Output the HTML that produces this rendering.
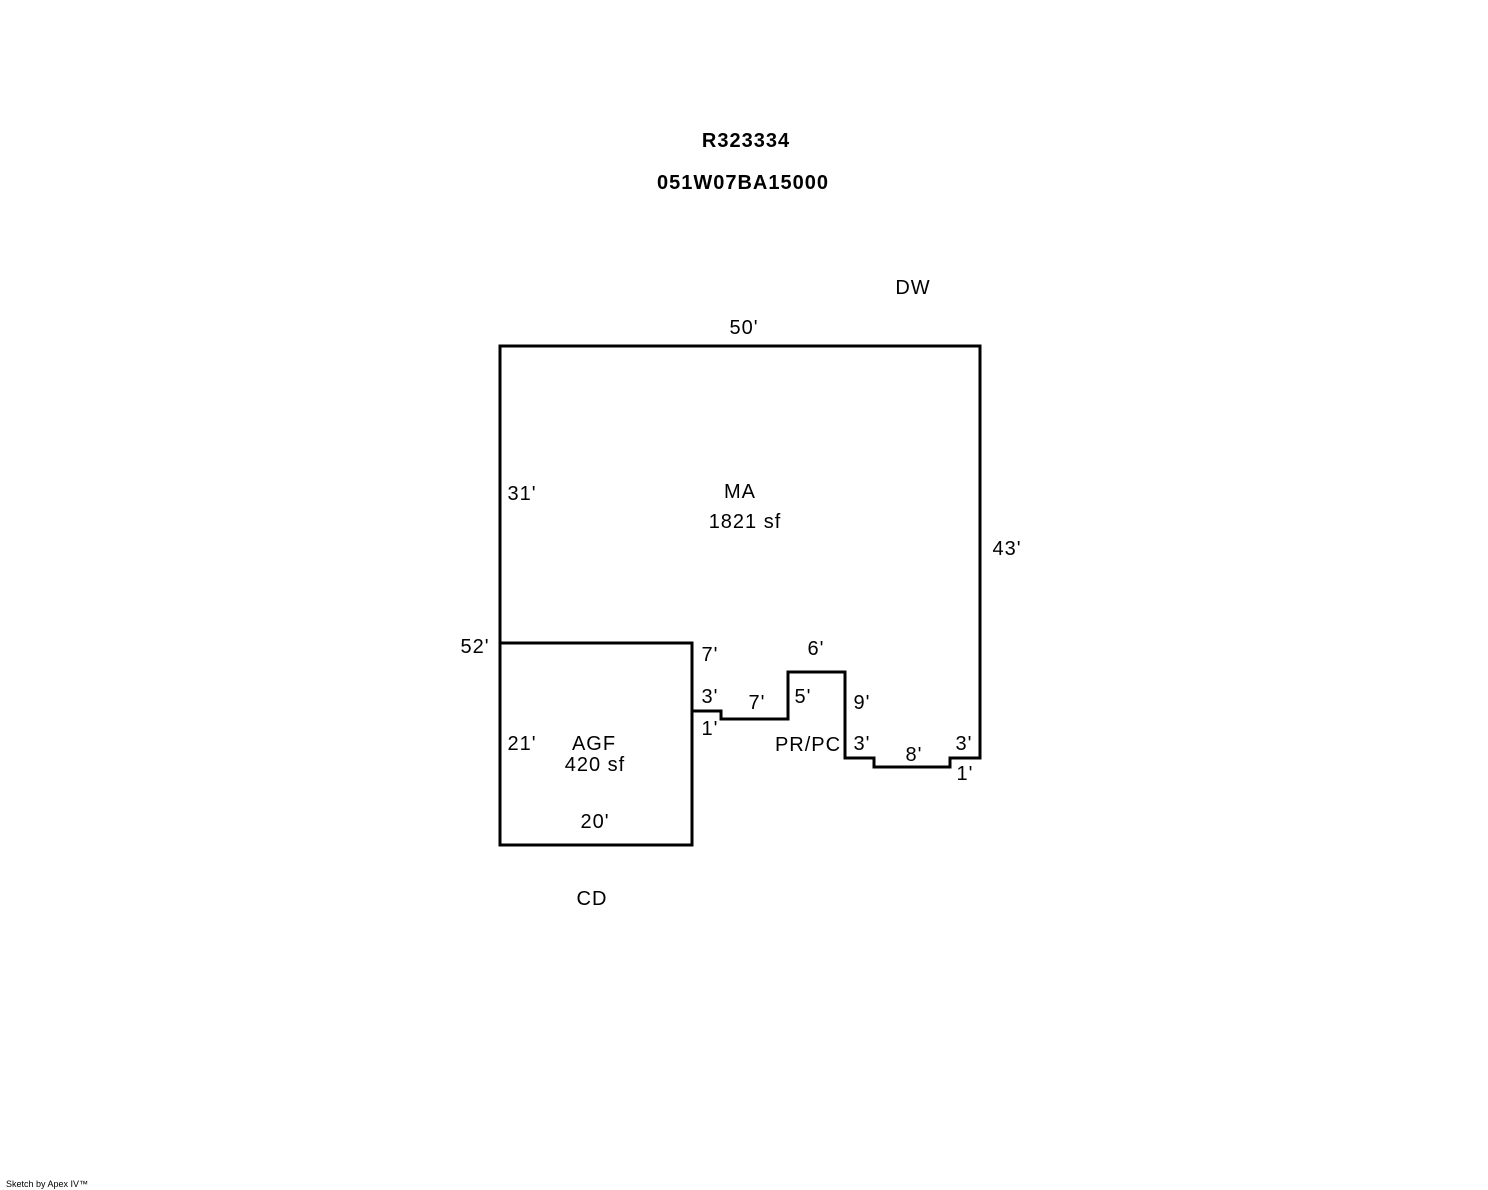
<!DOCTYPE html>
<html><head><style>html,body{margin:0;padding:0;background:#fff;width:1488px;height:1190px;overflow:hidden}</style></head>
<body>
<svg width="1488" height="1190" xmlns="http://www.w3.org/2000/svg" font-family="Liberation Sans, Arial, sans-serif" font-size="20" letter-spacing="1">
<g fill="none" stroke="#000" stroke-width="3" stroke-linejoin="miter" stroke-linecap="square">
<path d="M500,346 H980 V758 H950 V767 H874 V758 H845 V672 H788 V719 H721 V711 H692"/>
<path d="M500,346 V845 H692 V643 H500"/>
</g>
<g fill="#000">
<text x="746" y="147" text-anchor="middle" font-weight="bold">R323334</text>
<text x="743" y="189" text-anchor="middle" font-weight="bold">051W07BA15000</text>
<text x="913" y="294" text-anchor="middle">DW</text>
<text x="744" y="334" text-anchor="middle">50'</text>
<text x="522" y="500" text-anchor="middle">31'</text>
<text x="740" y="498" text-anchor="middle">MA</text>
<text x="745" y="528" text-anchor="middle">1821 sf</text>
<text x="1007" y="555" text-anchor="middle">43'</text>
<text x="475" y="653" text-anchor="middle">52'</text>
<text x="710" y="661" text-anchor="middle">7'</text>
<text x="816" y="655" text-anchor="middle">6'</text>
<text x="710" y="703" text-anchor="middle">3'</text>
<text x="757" y="709" text-anchor="middle">7'</text>
<text x="803" y="703" text-anchor="middle">5'</text>
<text x="862" y="709" text-anchor="middle">9'</text>
<text x="710" y="735" text-anchor="middle">1'</text>
<text x="808" y="751" text-anchor="middle">PR/PC</text>
<text x="862" y="750" text-anchor="middle">3'</text>
<text x="914" y="761" text-anchor="middle">8'</text>
<text x="964" y="750" text-anchor="middle">3'</text>
<text x="965" y="780" text-anchor="middle">1'</text>
<text x="522" y="750" text-anchor="middle">21'</text>
<text x="594" y="750" text-anchor="middle">AGF</text>
<text x="595" y="771" text-anchor="middle">420 sf</text>
<text x="595" y="828" text-anchor="middle">20'</text>
<text x="592" y="905" text-anchor="middle">CD</text>
<text x="6" y="1187" font-size="9" letter-spacing="0">Sketch by Apex IV™</text>
</g>
</svg>
</body></html>
